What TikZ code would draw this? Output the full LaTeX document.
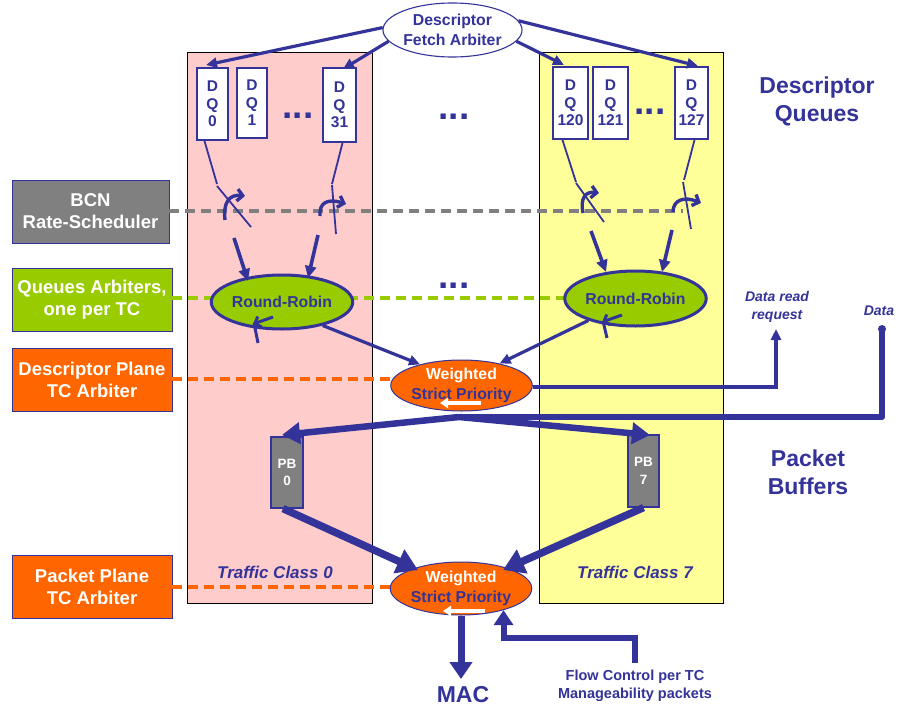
\documentclass[tikz,border=0pt]{standalone}
\usepackage{fontspec}
\setmainfont{Liberation Sans}
\usetikzlibrary{arrows.meta,shapes.geometric,calc}
\definecolor{navy}{HTML}{333399}
\definecolor{pinkbg}{HTML}{FFCCCC}
\definecolor{yellowbg}{HTML}{FFFF99}
\definecolor{limeg}{HTML}{99CC00}
\definecolor{orng}{HTML}{FF6600}
\definecolor{grayb}{HTML}{808080}
\tikzset{
  tcbg/.style={draw=black, line width=0.9pt},
  sidebox/.style={draw=navy, line width=0.9pt, text=white, font=\bfseries\fontsize{18.5}{22}\selectfont, align=center, inner sep=0pt, minimum width=160pt, minimum height=63pt},
  dqbox/.style={draw=navy, line width=2pt, fill=white, text=navy, font=\bfseries\fontsize{15.5}{17.5}\selectfont, align=center, inner sep=0pt, minimum height=72pt},
  pbbox/.style={draw=navy, line width=1.2pt, fill=grayb, text=white, font=\bfseries\fontsize{13.5}{17.5}\selectfont, align=center, inner sep=0pt, minimum width=32pt, minimum height=71pt},
  fetchell/.style={ellipse, draw=navy, line width=1.1pt, fill=white, text=navy, font=\bfseries\fontsize{15.8}{20}\selectfont, align=center, inner sep=0pt, minimum width=111pt, minimum height=54pt},
  rrell/.style={ellipse, draw=navy, line width=3pt, fill=limeg, text=navy, font=\bfseries\fontsize{15.8}{18}\selectfont, inner sep=0pt, minimum width=113pt, minimum height=54pt},
  wspell/.style={ellipse, draw=navy, line width=1pt, fill=orng, text=navy, font=\bfseries\fontsize{15.8}{20}\selectfont, align=center, inner sep=0pt, minimum width=111pt, minimum height=51pt},
  dgray/.style={draw=grayb, line width=3.5pt, dash pattern=on 10pt off 6pt},
  dgreen/.style={draw=limeg, line width=3.5pt, dash pattern=on 10pt off 6pt},
  dorange/.style={draw=orng, line width=3.5pt, dash pattern=on 10pt off 6pt},
  wire/.style={draw=navy, line width=1.8pt},
  conn/.style={draw=navy, line width=3.2pt, -{Triangle[length=11pt,width=10pt]}},
  bent/.style={draw=navy, line width=3.4pt, -{Straight Barb[length=5.5pt,width=12pt]}},
  feed/.style={draw=navy, line width=3.6pt, -{Triangle[length=12pt,width=11pt]}},
  fat/.style={draw=navy, line width=7.5pt, -{Triangle[length=21pt,width=25pt]}},
  bus/.style={draw=navy, line width=6.5pt, -{Triangle[length=18pt,width=21pt]}},
  bigtxt/.style={text=navy, font=\bfseries\fontsize{23}{28}\selectfont, align=center, inner sep=0pt},
  tctxt/.style={text=navy, font=\bfseries\itshape\fontsize{17}{20}\selectfont, inner sep=0pt},
  smalltxt/.style={text=navy, font=\bfseries\fontsize{14.5}{18}\selectfont, align=center, inner sep=0pt},
  dots/.style={text=navy, font=\bfseries\fontsize{37}{37}\selectfont, inner sep=0pt, anchor=base},
  whitearr/.style={draw=white, line width=3.6pt, -{Triangle[length=8pt,width=10pt]}}
}
\begin{document}
\begin{tikzpicture}[x=1pt,y=-1pt]
\useasboundingbox (0,0) rectangle (899,706);
\fill[white] (0,0) rectangle (899,706);

% traffic class backgrounds
\draw[tcbg, fill=pinkbg] (187,52) rectangle (372,603);
\draw[tcbg, fill=yellowbg] (539,52) rectangle (723,603);

% side boxes
\node[sidebox, fill=grayb, minimum width=157pt] (bcn) at (90.5,211.5) {BCN\\Rate-Scheduler};
\node[sidebox, fill=limeg] (qarb) at (92,300) {Queues Arbiters,\\one per TC};
\node[sidebox, fill=orng] (dparb) at (92,379.5) {Descriptor Plane\\TC Arbiter};
\node[sidebox, fill=orng] (pparb) at (92,587) {Packet Plane\\TC Arbiter};

% dashed links
\coordinate (gEnd) at (683,211);
\coordinate (lEnd) at (579,298);
\coordinate (oEnd1) at (406,379);
\coordinate (oEnd2) at (405,587);
\draw[dgray] (bcn.east |- gEnd) -- (gEnd);
\draw[dgreen] (qarb.east |- lEnd) -- (lEnd);
\draw[dorange] (dparb.east |- oEnd1) -- (oEnd1);
\draw[dorange] (pparb.east |- oEnd2) -- (oEnd2);

% descriptor queues
\node[dqbox, minimum width=31pt] (dq0) at (212.5,104) {D\\Q\\0};
\node[dqbox, minimum width=30pt, minimum height=70pt] (dq1) at (252,103) {D\\Q\\1};
\node[dqbox, minimum width=33pt, minimum height=74pt] (dq31) at (339.5,105) {D\\Q\\31};
\node[dqbox, minimum width=35pt] (dq120) at (570.5,103) {D\\Q\\120};
\node[dqbox, minimum width=35pt] (dq121) at (610.5,103) {D\\Q\\121};
\node[dqbox, minimum width=33pt] (dq127) at (691.5,103) {D\\Q\\127};

\node[dots] (dotsA) at (298,118) {...};
\node[dots] (dotsB) at (454,120) {...};
\node[dots] (dotsC) at (650,115) {...};
\node[dots] (dotsD) at (454,288) {...};

% fetch arbiter
\node[fetchell] (fetch) at (452.5,30) {Descriptor\\Fetch Arbiter};
\coordinate (t0) at (206,65);
\coordinate (t31) at (343,69);
\coordinate (t120) at (564,65);
\coordinate (t127) at (698,66);
\draw[conn] (fetch.178) -- (t0);
\draw[conn] (fetch.190) -- (t31);
\draw[conn] (fetch.-10) -- (t120);
\draw[conn] (fetch.8) -- (t127);

% round robin arbiters
\node[rrell] (rrL) at (282,302) {Round-Robin};
\node[rrell, minimum height=55pt] (rrR) at (635.5,298.5) {Round-Robin};

% switches, left group
\draw[wire] ([xshift=-8pt]dq0.south) -- (217,184);
\draw[wire] (217,186) -- (251,227);
\draw[bent] (225,220) .. controls (223,203) and (229,194) .. (245,196);
\draw[feed] (234,238) -- (248,281);

\draw[wire] ([xshift=3pt]dq31.south) -- (332,184);
\draw[wire] (332,185) -- (336,234);
\draw[bent] (320,216) .. controls (319,203) and (327,198) .. (346,204);
\draw[feed] (318,235) -- (308,278);

% switches, right group
\draw[wire] ([xshift=-8pt]dq120.south) -- (576,182);
\draw[wire] (576,183) -- (604,222);
\draw[bent] (583,213) .. controls (580,199) and (585,191) .. (599,193);
\draw[feed] (591,231) -- (606,272);

\draw[wire] ([xshift=3pt]dq127.south) -- (684,180);
\draw[wire] (683,182) -- (691,229);
\draw[bent] (673,212) .. controls (673,200) and (684,196) .. (701,203);
\draw[feed] (672,230) -- (662,272);

% feedback ticks at round robins
\draw[wire, line width=3pt] (258,343) -- (254,323);
\draw[navy, line width=3pt, -{Straight Barb[length=5pt,width=11pt]}] (273,317) -- (253,324);
\draw[wire, line width=3pt] (607,338) -- (603,321);
\draw[navy, line width=3pt, -{Straight Barb[length=5pt,width=11pt]}] (622,315) -- (602,322);

% descriptor plane TC arbiter
\node[wspell] (wsp1) at (461.5,385.5) {\textcolor{white}{Weighted}\\Strict Priority};
\draw[whitearr] (481,403) -- (440,403);
\draw[conn] (rrL.-30) -- (wsp1.153);
\draw[conn] (rrR.205) -- (wsp1.30);

% data read request
\node[text=navy, font=\bfseries\itshape\fontsize{14}{18}\selectfont, align=center, inner sep=0pt] (drr) at (777,307) {Data read\\request};
\coordinate (drrTip) at (776,329);
\draw[navy, line width=3.5pt, -{Triangle[length=11pt,width=10pt]}] (wsp1.east |- 0,387) -- (drrTip |- 0,387) -- (drrTip);

% data bus to packet buffers
\node[text=navy, font=\bfseries\itshape\fontsize{14}{18}\selectfont, inner sep=0pt] (data) at (879,311) {Data};
\coordinate (dataStart) at (882,329);
\coordinate (split) at (459,417);
\fill[navy] (dataStart) circle (4pt);
\draw[navy, line width=6.5pt, line join=round] (dataStart) -- (882,417) -- (split);

\node[pbbox] (pb0) at (287,472.5) {PB\\0};
\node[pbbox, minimum width=31pt, minimum height=72pt] (pb7) at (643.5,471) {PB\\7};
\draw[bus] (split) -- (282,435);
\draw[bus] (split) -- (650,435);

% packet plane TC arbiter
\node[wspell, minimum width=112pt, minimum height=53pt] (wsp2) at (461,588.5) {\textcolor{white}{Weighted}\\Strict Priority};
\draw[whitearr] (485,611) -- (443,611);
\draw[fat] ([xshift=-4pt]pb0.south) -- (418,570);
\draw[fat] (pb7.south) -- (503,570);

% traffic class labels
\node[tctxt] (tc0lbl) at (275,572) {Traffic Class 0};
\node[tctxt] (tc7lbl) at (635,572) {Traffic Class 7};

% MAC
\node[bigtxt] (mac) at (463,695) {MAC};
\draw[navy, line width=7pt, -{Triangle[length=17pt,width=22pt]}] (wsp2.south) -- (461,679);

% flow control
\node[smalltxt] (flow) at (635,686) {Flow Control per TC\\Manageability packets};
\draw[navy, line width=6pt, -{Triangle[length=15pt,width=19pt]}] (635,663) -- (635,638) -| (wsp2.-27);

% titles
\node[bigtxt] (dqtitle) at (817,101) {Descriptor\\Queues};
\node[bigtxt] (pbtitle) at (808,472) {Packet\\Buffers};
\end{tikzpicture}
\end{document}
